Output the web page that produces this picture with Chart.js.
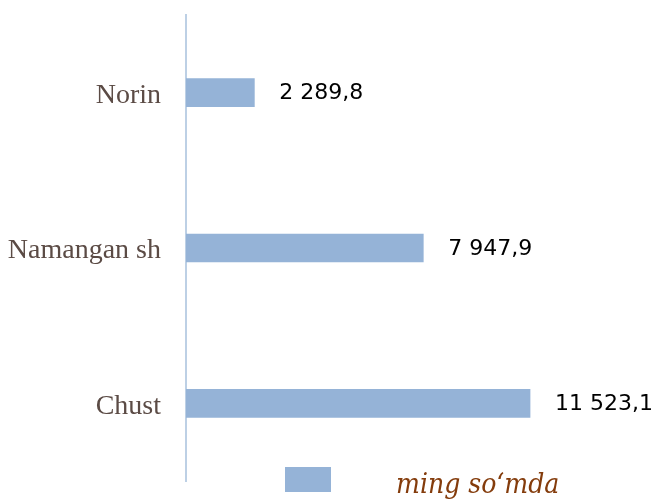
<!DOCTYPE html>
<html>
<head>
<meta charset="utf-8">
<script src="https://cdn.jsdelivr.net/npm/chart.js@4/dist/chart.umd.min.js"></script>
<style>
  html, body { margin: 0; padding: 0; background: #fff; }
  #wrap { width: 656px; height: 499px; position: relative; }
</style>
</head>
<body>
<div id="wrap"><canvas id="grafik"></canvas></div>
<script>
// Ma'lumotlar
const hududlar = ['Norin', 'Namangan sh', 'Chust'];
const qiymatlar = [2289.8, 7947.9, 11523.1];
const qiymatMatni = ['2 289,8', '7 947,9', '11 523,1'];
const birlik = 'ming so\u2018mda';

const barRang = '#95B3D7';

// Qiymatlarni bar oxiriga yozish
const qiymatYozuv = {
  id: 'qiymatYozuv',
  afterDatasetsDraw(chart) {
    const ctx = chart.ctx;
    const meta = chart.getDatasetMeta(0);
    ctx.save();
    ctx.font = '22px "DejaVu Sans", sans-serif';
    ctx.fillStyle = '#000';
    ctx.textAlign = 'left';
    ctx.textBaseline = 'middle';
    meta.data.forEach((bar, i) => {
      ctx.fillText(qiymatMatni[i], bar.x + 25, bar.y + 1);
    });
    ctx.restore();
  }
};

// Pastdagi legenda
const legenda = {
  id: 'legenda',
  afterDraw(chart) {
    const ctx = chart.ctx;
    ctx.save();
    ctx.fillStyle = barRang;
    ctx.fillRect(285, 467, 46, 25);
    ctx.font = 'italic 28px "DejaVu Serif Condensed", "DejaVu Serif", serif';
    ctx.fillStyle = '#843C0C';
    ctx.textAlign = 'left';
    ctx.textBaseline = 'alphabetic';
    ctx.fillText(birlik, 396, 493);
    ctx.restore();
  }
};

new Chart(document.getElementById('grafik'), {
  type: 'bar',
  data: {
    labels: hududlar,
    datasets: [{
      label: birlik,
      data: qiymatlar,
      backgroundColor: barRang,
      borderWidth: 0,
      barThickness: 28
    }]
  },
  options: {
    indexAxis: 'y',
    responsive: true,
    maintainAspectRatio: false,
    animation: false,
    layout: { padding: { top: 15, bottom: 18, left: 0, right: 52 } },
    plugins: {
      legend: { display: false },
      tooltip: { enabled: false }
    },
    scales: {
      x: {
        display: false,
        min: 0,
        max: 14000
      },
      y: {
        afterFit: s => {
          s.width = 186;
          s.paddingTop = 0;
          s.paddingBottom = 0;
        },
        grid: { display: false, drawTicks: false },
        border: { display: true, color: '#BDD0E5', width: 2 },
        ticks: {
          padding: 25,
          labelOffset: 3,
          color: '#5B4B45',
          font: { family: '"Liberation Serif", "Times New Roman", serif', size: 28 }
        }
      }
    }
  },
  plugins: [qiymatYozuv, legenda]
});
</script>
</body>
</html>
